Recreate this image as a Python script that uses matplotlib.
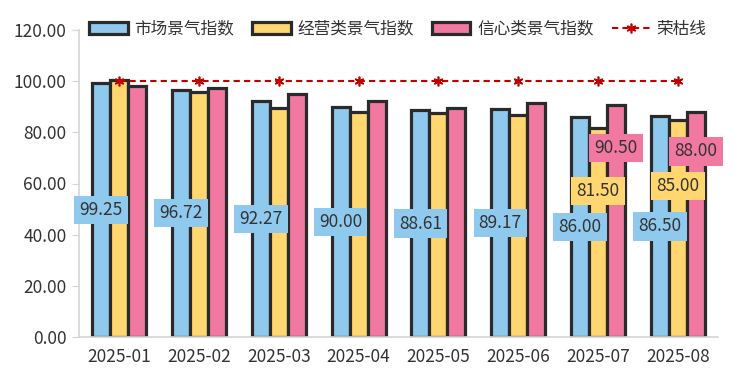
import matplotlib
matplotlib.use("Agg")
import matplotlib.pyplot as plt
from matplotlib.patches import Patch
from matplotlib.lines import Line2D
import numpy as np

plt.rcParams['font.family'] = ['Noto Sans CJK SC', 'DejaVu Sans']

months = ['2025-01', '2025-02', '2025-03', '2025-04', '2025-05', '2025-06', '2025-07', '2025-08']
market = [99.25, 96.72, 92.27, 90.00, 88.61, 89.17, 86.00, 86.50]
business = [100.5, 95.7, 89.6, 88.0, 87.4, 86.9, 81.50, 85.00]
confidence = [98.1, 97.3, 95.0, 92.3, 89.6, 91.6, 90.50, 88.00]
boom_line = [100] * len(months)

series_names = ['市场景气指数', '经营类景气指数', '信心类景气指数']
line_name = '荣枯线'

# labels that stay visible in the reference (others are hidden by overlap)
show_label = [
    [True] * 8,
    [False] * 6 + [True, True],
    [False] * 6 + [True, True],
]
label_shift = [0, 42, 73]  # px upward shift of the stacked labels

colors = ['#8fc9ee', '#ffd670', '#f178a0']
edge = '#2a2a2a'
text_c = '#333333'

fig = plt.figure(figsize=(7.41, 3.79), dpi=100)
ax = fig.add_axes([79 / 741, 1 - 337 / 379, 639 / 741, 307 / 379])

x = np.arange(len(months))
w = 0.225
for i, vals in enumerate([market, business, confidence]):
    xs = x + (i - 1) * w
    ax.bar(xs, vals, width=w, color=colors[i], edgecolor=edge, linewidth=2.3, zorder=2)
    for xi, v, show in zip(xs, vals, show_label[i]):
        if not show:
            continue
        ax.annotate(f'{v:.2f}', xy=(xi, v / 2), xytext=(0, label_shift[i] * 0.72),
                    textcoords='offset points', ha='center', va='center',
                    fontsize=12.5, color=text_c, zorder=5,
                    bbox=dict(boxstyle='square,pad=0.3', fc=colors[i], ec='none'))

ax.plot(x, boom_line, color='#c00000', linestyle=(0, (3, 2)), linewidth=1.5,
        marker=(6, 2, 0), markersize=7, markeredgewidth=1.2, zorder=3)

ax.set_xlim(-0.5, len(months) - 0.5)
ax.set_ylim(0, 120)
ax.set_yticks(np.arange(0, 121, 20))
ax.set_yticklabels([f'{t:.2f}' for t in np.arange(0, 121, 20)])
ax.set_xticks(x)
ax.set_xticklabels(months)

for s in ['top', 'right']:
    ax.spines[s].set_visible(False)
for s in ['left', 'bottom']:
    ax.spines[s].set_color('#d6d6d6')
    ax.spines[s].set_linewidth(1.2)
ax.tick_params(axis='y', length=5, color='#d6d6d6', labelsize=12.5, labelcolor=text_c, pad=4)
ax.tick_params(axis='x', length=0, labelsize=12.5, labelcolor=text_c, pad=8)

handles = [Patch(facecolor=c, edgecolor=edge, linewidth=2.3) for c in colors]
handles.append(Line2D([], [], color='#c00000', linestyle=(0, (3, 2)), linewidth=1.5,
                      marker=(6, 2, 0), markersize=7, markeredgewidth=1.2))
leg = fig.legend(handles, series_names + [line_name], loc='center', ncol=4,
                 bbox_to_anchor=(398 / 741, 1 - 29 / 379), frameon=False,
                 fontsize=12, handlelength=2.3, handleheight=0.7,
                 handletextpad=0.4, columnspacing=1.1, borderaxespad=0)
for t in leg.get_texts():
    t.set_color(text_c)

fig.savefig('out.png', dpi=100)
